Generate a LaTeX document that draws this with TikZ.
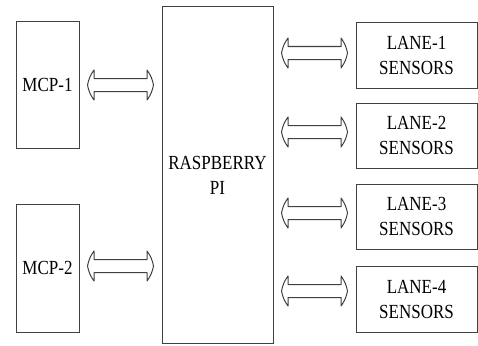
\documentclass[tikz,border=0pt]{standalone}
\usepackage{fontspec}
\setmainfont[FakeStretch=0.85]{Liberation Serif}
\usetikzlibrary{calc}

\begin{document}
\begin{tikzpicture}[x=1pt,y=-1pt]
	\tikzstyle{block}=[draw=black!75, line width=1pt, inner sep=0pt, align=center, font=\fontsize{20}{25}\selectfont]
	% hollow two-headed arrow between two points on one level
	\tikzstyle{link}=[draw=black!75, line width=1pt, line join=round,
		to path={let \p1=(\tikztostart), \p2=(\tikztotarget) in
			(\x1+8pt,\y1) to[bend left=12] (\x1+14.5pt,\y1+15pt) -- (\x1+14.5pt,\y1+6.5pt)
			-- (\x2-8pt-6.5pt,\y1+6.5pt) -- (\x2-8pt-6.5pt,\y1+15pt) to[bend left=12] (\x2-8pt,\y1)
			to[bend left=12] (\x2-8pt-6.5pt,\y1-15pt) -- (\x2-8pt-6.5pt,\y1-6.5pt)
			-- (\x1+14.5pt,\y1-6.5pt) -- (\x1+14.5pt,\y1-15pt) to[bend left=12] cycle}]
	
	\useasboundingbox (0,0) rectangle (478,345);
	
	\node[block, minimum width=63pt, minimum height=126pt] (mcp1) at (47.5,85) {MCP-1};
	\node[block, minimum width=63pt, minimum height=128pt] (mcp2) at (47.5,268) {MCP-2};
	\node[block, minimum width=111pt, minimum height=336pt] (rpi) at (217.5,175) {RASPBERRY\\PI};
	
	\node[block, minimum width=121pt, minimum height=65pt] (lane1) at (416.5,55.5) {LANE-1\\SENSORS};
	\node[block, minimum width=121pt, minimum height=65pt] (lane2) at (416.5,135.5) {LANE-2\\SENSORS};
	\node[block, minimum width=121pt, minimum height=65pt] (lane3) at (416.5,216.5) {LANE-3\\SENSORS};
	\node[block, minimum width=121pt, minimum height=66pt] (lane4) at (416.5,299) {LANE-4\\SENSORS};
	
	\draw[link] (mcp1.east) to (mcp1.east -| rpi.west);
	\draw[link] ([yshift=2pt]mcp2.east) to ([yshift=2pt]mcp2.east -| rpi.west);
	\draw[link] ([yshift=2.5pt]rpi.east |- lane1.west) to ([yshift=2.5pt]lane1.west);
	\draw[link] ([yshift=3.5pt]rpi.east |- lane2.west) to ([yshift=3.5pt]lane2.west);
	\draw[link] ([yshift=3.5pt]rpi.east |- lane3.west) to ([yshift=3.5pt]lane3.west);
	\draw[link] ([yshift=8pt]rpi.east |- lane4.west) to ([yshift=8pt]lane4.west);
\end{tikzpicture}
\end{document}
